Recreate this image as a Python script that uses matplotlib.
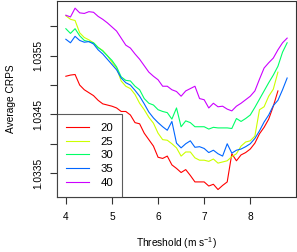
"""
plot.py - Average CRPS against wind-speed threshold, one line per window length.
"""
import matplotlib
matplotlib.use('Agg')
import matplotlib.pyplot as plt

plt.rcParams['font.family'] = ['Liberation Sans', 'DejaVu Sans']
plt.rcParams['mathtext.fontset'] = 'custom'
plt.rcParams['mathtext.rm'] = 'Liberation Sans'
plt.rcParams['mathtext.default'] = 'regular'

# ── Data ──────────────────────────────────────────────────────────────────────

thresholds = [4.0, 4.1, 4.2, 4.3, 4.4, 4.5, 4.6, 4.7, 4.8, 4.9,
              5.0, 5.1, 5.2, 5.3, 5.4, 5.5, 5.6, 5.7, 5.8, 5.9,
              6.0, 6.1, 6.2, 6.3, 6.4, 6.5, 6.6, 6.7, 6.8, 6.9,
              7.0, 7.1, 7.2, 7.3, 7.4, 7.5, 7.6, 7.7, 7.8, 7.9,
              8.0, 8.1, 8.2, 8.3, 8.4, 8.5, 8.6, 8.7, 8.8]

crps_20 = [1.03515, 1.03517, 1.03518, 1.03500, 1.03492, 1.03487, 1.03482, 1.03474, 1.03468, 1.03466,
           1.03464, 1.03461, 1.03455, 1.03455, 1.03449, 1.03436, 1.03434, 1.03418, 1.03407, 1.03396,
           1.03377, 1.03375, 1.03379, 1.03364, 1.03358, 1.03351, 1.03356, 1.03346, 1.03335, 1.03335,
           1.03335, 1.03328, 1.03331, 1.03322, 1.03329, 1.03335, 1.03383, 1.03371, 1.03381, 1.03385,
           1.03391, 1.03401, 1.03417, 1.03428, 1.03442, 1.03464, 1.03490]

crps_25 = [1.03618, 1.03612, 1.03610, 1.03589, 1.03581, 1.03577, 1.03572, 1.03564, 1.03559, 1.03550,
           1.03539, 1.03529, 1.03507, 1.03498, 1.03494, 1.03484, 1.03469, 1.03458, 1.03445, 1.03435,
           1.03418, 1.03407, 1.03406, 1.03400, 1.03393, 1.03379, 1.03386, 1.03386, 1.03376, 1.03372,
           1.03372, 1.03370, 1.03374, 1.03367, 1.03369, 1.03371, 1.03378, 1.03383, 1.03396, 1.03403,
           1.03405, 1.03413, 1.03458, 1.03463, 1.03481, 1.03493, 1.03522]

crps_30 = [1.03596, 1.03588, 1.03596, 1.03584, 1.03576, 1.03574, 1.03572, 1.03564, 1.03558, 1.03550,
           1.03542, 1.03531, 1.03514, 1.03508, 1.03507, 1.03498, 1.03492, 1.03477, 1.03469, 1.03466,
           1.03458, 1.03455, 1.03453, 1.03442, 1.03461, 1.03429, 1.03439, 1.03436, 1.03429, 1.03429,
           1.03429, 1.03425, 1.03428, 1.03427, 1.03427, 1.03427, 1.03426, 1.03443, 1.03438, 1.03443,
           1.03449, 1.03462, 1.03476, 1.03490, 1.03504, 1.03517, 1.03532, 1.03556, 1.03572]

crps_35 = [1.03578, 1.03572, 1.03583, 1.03576, 1.03573, 1.03574, 1.03570, 1.03560, 1.03553, 1.03544,
           1.03535, 1.03526, 1.03512, 1.03504, 1.03500, 1.03491, 1.03481, 1.03468, 1.03454, 1.03444,
           1.03436, 1.03429, 1.03423, 1.03438, 1.03401, 1.03393, 1.03400, 1.03405, 1.03394, 1.03395,
           1.03392, 1.03385, 1.03389, 1.03383, 1.03379, 1.03400, 1.03384, 1.03389, 1.03391, 1.03395,
           1.03400, 1.03409, 1.03422, 1.03437, 1.03449, 1.03465, 1.03474, 1.03492, 1.03512]

crps_40 = [1.03619, 1.03616, 1.03631, 1.03623, 1.03622, 1.03625, 1.03624, 1.03617, 1.03612, 1.03606,
           1.03599, 1.03592, 1.03580, 1.03568, 1.03563, 1.03553, 1.03544, 1.03533, 1.03522, 1.03515,
           1.03509, 1.03498, 1.03498, 1.03492, 1.03489, 1.03481, 1.03490, 1.03494, 1.03498, 1.03477,
           1.03475, 1.03461, 1.03469, 1.03463, 1.03464, 1.03459, 1.03456, 1.03464, 1.03469, 1.03475,
           1.03481, 1.03490, 1.03510, 1.03529, 1.03538, 1.03546, 1.03560, 1.03572, 1.03580]

series_labels = ['20', '25', '30', '35', '40']
series_values = [crps_20, crps_25, crps_30, crps_35, crps_40]

y_ticks = [1.0335, 1.0340, 1.0345, 1.0350, 1.0355, 1.0360]
y_tick_labels = ['1.0335', '', '1.0345', '', '1.0355', '']
x_ticks = [4, 5, 6, 7, 8]

# R rainbow(5)
COLORS = ['#FF0000', '#CCFF00', '#00FF66', '#0066FF', '#CC00FF']
FS = 7.3

# ── Figure ────────────────────────────────────────────────────────────────────

fig = plt.figure(figsize=(2.97, 2.52), dpi=100)
ax = fig.add_axes([57 / 297, 1 - 197 / 252, 239 / 297, 196 / 252])

for label, vals, col in zip(series_labels, series_values, COLORS):
    ax.plot(thresholds[:len(vals)], vals, color=col, lw=0.8, label=label)

ax.set_xlim(3.808, 8.992)
ax.set_ylim(1.033093, 1.036432)
ax.set_xticks(x_ticks)
ax.set_yticks(y_ticks)
ax.set_yticklabels(y_tick_labels, rotation=90, va='center')
ax.tick_params(direction='out', length=5, width=0.8, labelsize=FS, color='#333333')
ax.tick_params(axis='x', pad=6)
ax.tick_params(axis='y', pad=5)
for s in ax.spines.values():
    s.set_linewidth(0.8)
    s.set_color('#333333')

ax.set_xlabel('Threshold (m s$^{-1}$)', fontsize=FS, labelpad=9)
ax.set_ylabel('Average CRPS', fontsize=FS, labelpad=12)

leg = ax.legend(loc='lower left', bbox_to_anchor=(0, 0), borderaxespad=0,
                fontsize=FS + 0.9, fancybox=False, handlelength=2.0,
                handletextpad=1.0, labelspacing=0.33, borderpad=0.8)
leg.get_frame().set_edgecolor('#333333')
leg.get_frame().set_linewidth(0.8)

fig.savefig('out.png', dpi=100)
